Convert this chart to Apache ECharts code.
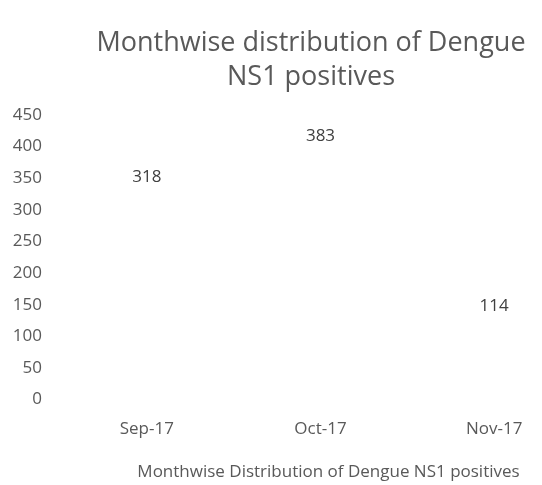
<!DOCTYPE html>
<html>
<head>
<meta charset="utf-8">
<script src="https://cdn.jsdelivr.net/npm/echarts@6/dist/echarts.min.js"></script>
<style>
  html, body { margin: 0; padding: 0; background: #fff; }
  #main { width: 542px; height: 485px; }
</style>
</head>
<body>
<div id="main"></div>
<script>
var months = ['Sep-17', 'Oct-17', 'Nov-17'];
var positives = [318, 383, 114];

var myChart = echarts.init(document.getElementById('main'));
var font = '"Open Sans", "Noto Sans", sans-serif';

var option = {
    backgroundColor: '#ffffff',
    title: {
        text: 'Monthwise distribution of Dengue\nNS1 positives',
        left: 306,
        top: 21,
        textAlign: 'center',
        textStyle: {
            fontFamily: font,
            fontSize: 27,
            fontWeight: 'normal',
            color: '#595959',
            lineHeight: 34
        }
    },
    grid: {
        left: 60,
        width: 521,
        top: 115,
        height: 284.5,
        containLabel: false,
        outerBoundsMode: 'none'
    },
    xAxis: {
        type: 'category',
        data: months,
        boundaryGap: true,
        axisLine: { show: false },
        axisTick: { show: false },
        axisLabel: {
            margin: 21,
            fontFamily: font,
            fontSize: 17,
            color: '#595959'
        },
        name: 'Monthwise Distribution of Dengue NS1 positives',
        nameLocation: 'middle',
        nameGap: 64,
        nameTextStyle: {
            fontFamily: font,
            fontSize: 17,
            color: '#595959',
            padding: [0, 0, 0, 16]
        }
    },
    yAxis: {
        type: 'value',
        min: 0,
        max: 450,
        interval: 50,
        axisLine: { show: false },
        axisTick: { show: false },
        splitLine: { show: false },
        axisLabel: {
            margin: 18,
            fontFamily: font,
            fontSize: 17,
            color: '#595959'
        }
    },
    series: [
        {
            type: 'line',
            data: positives,
            symbol: 'circle',
            symbolSize: 0,
            lineStyle: { opacity: 0 },
            itemStyle: { color: 'rgba(0,0,0,0)' },
            label: {
                show: true,
                position: 'top',
                distance: 13,
                fontFamily: font,
                fontSize: 17,
                color: '#404040'
            }
        }
    ]
};

if (option && typeof option === 'object') {
    myChart.setOption(option);
}
</script>
</body>
</html>
